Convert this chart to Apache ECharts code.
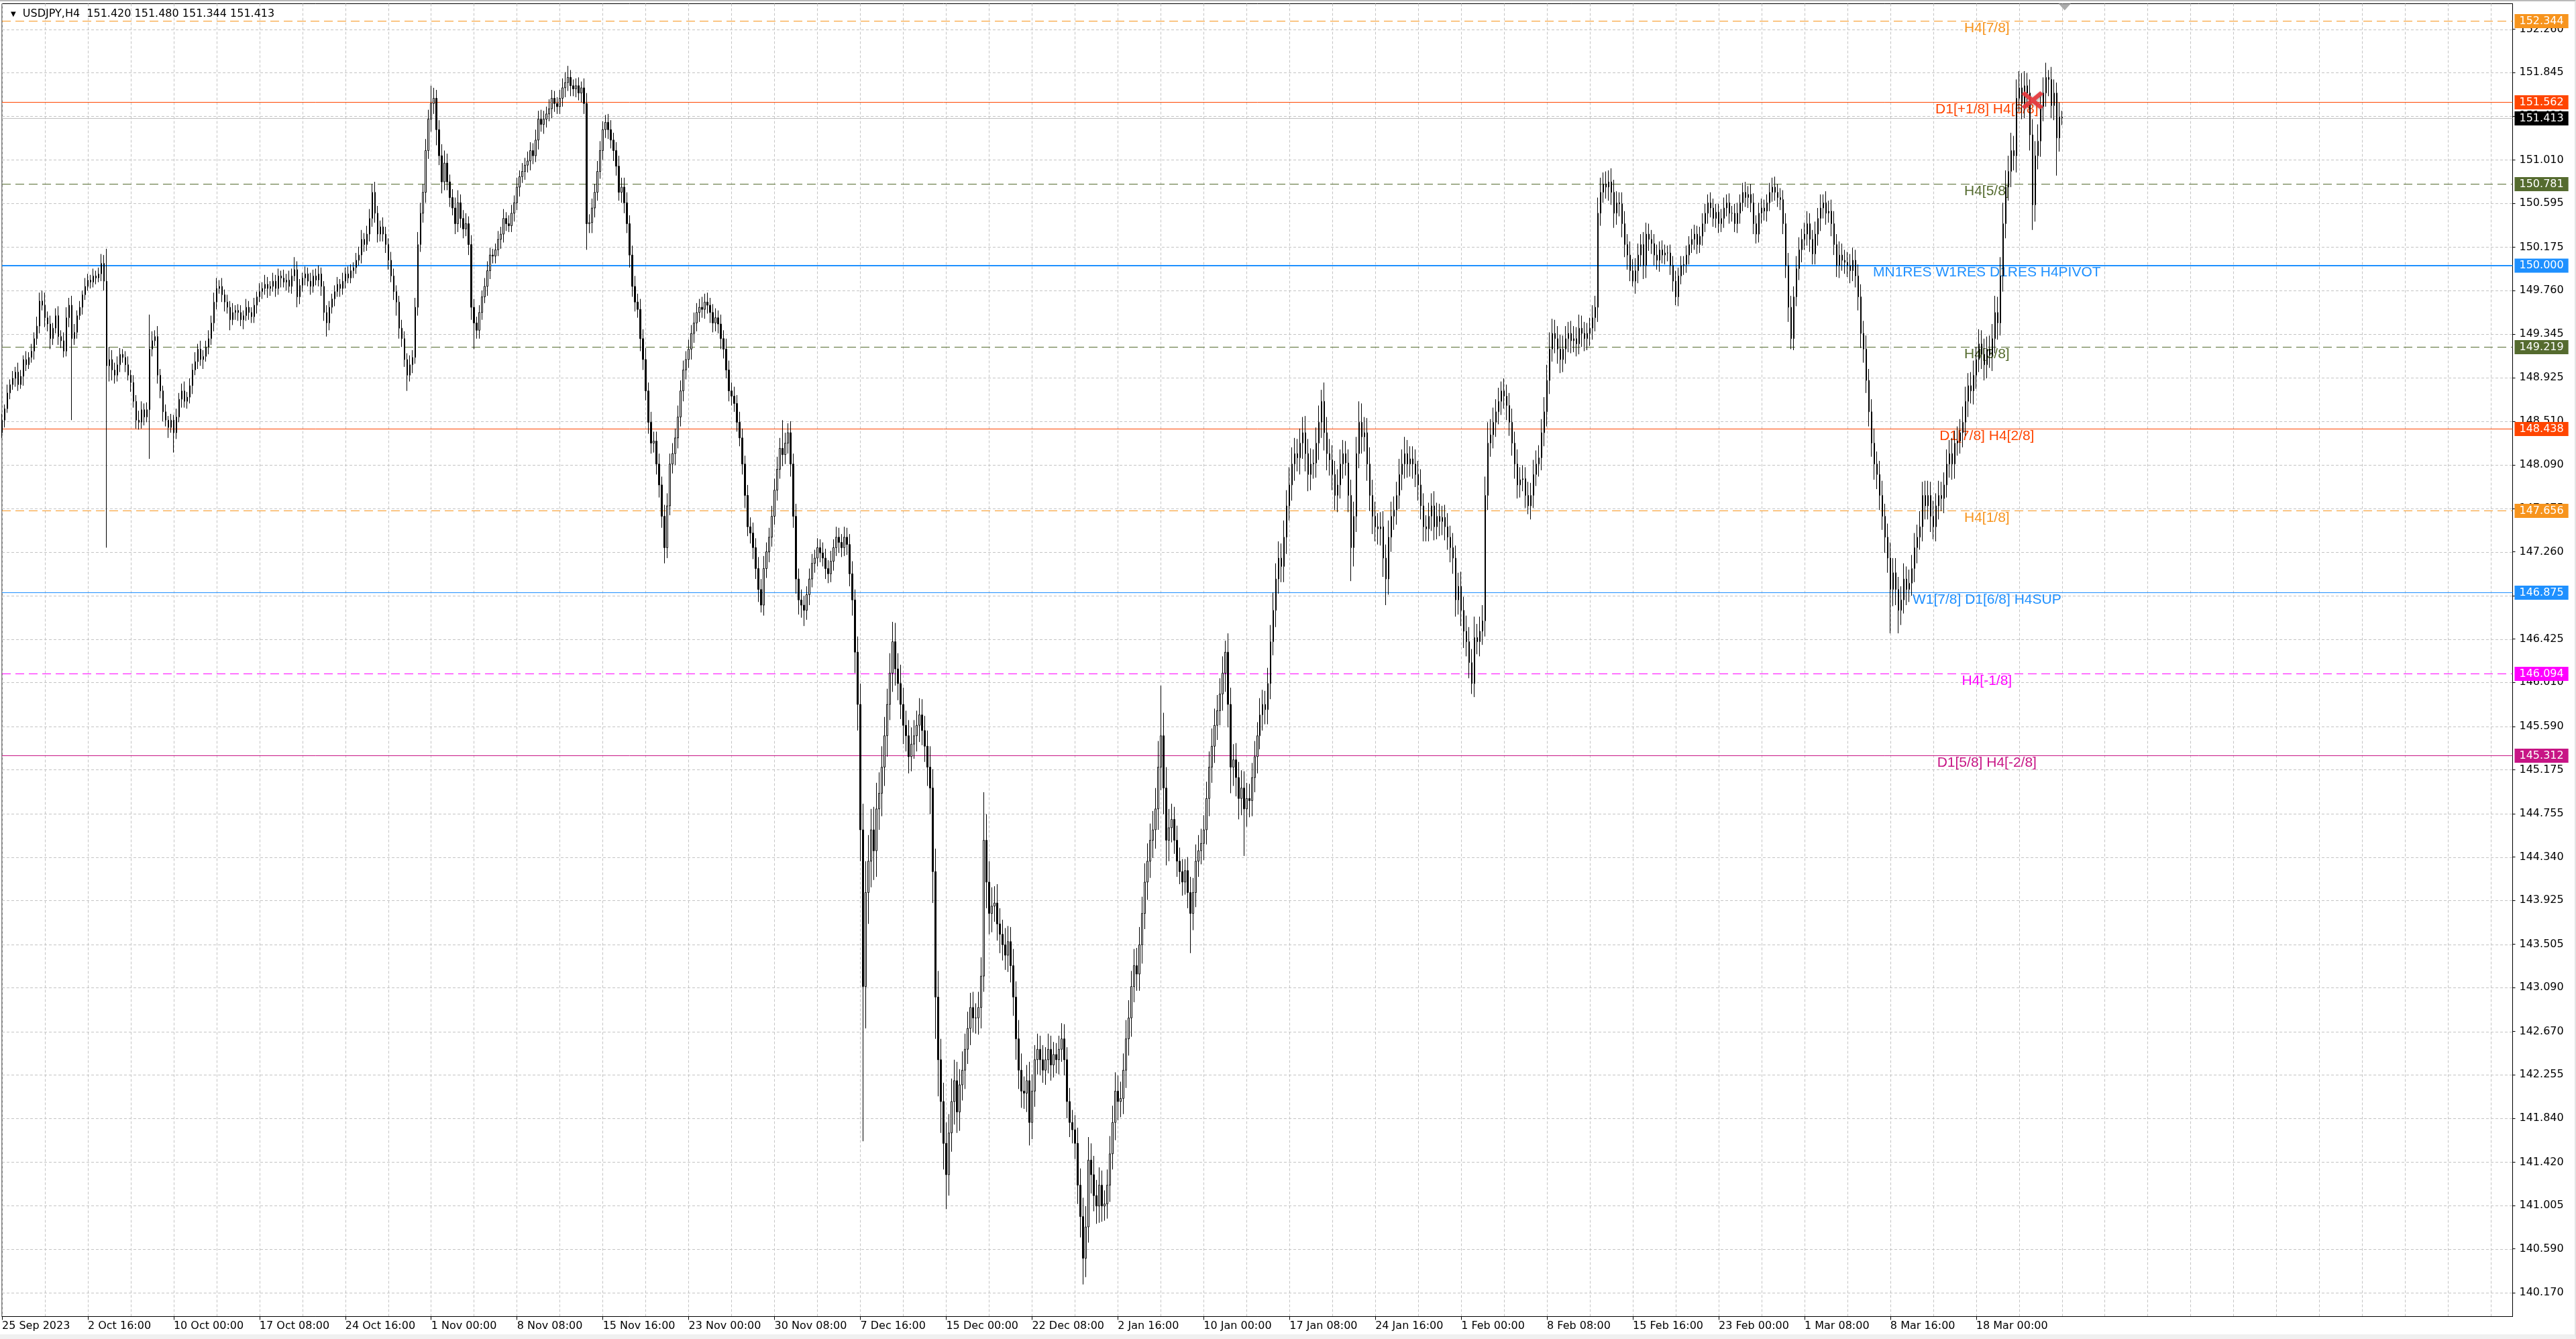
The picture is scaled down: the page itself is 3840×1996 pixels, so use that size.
<!DOCTYPE html>
<html><head><meta charset="utf-8">
<script src="https://cdn.jsdelivr.net/npm/echarts@6/dist/echarts.min.js"></script>
<style>
html,body{margin:0;padding:0;background:#fff;overflow:hidden;}
#c{width:3838px;height:1987px;border-top:2px solid #B9B9B9;border-right:2px solid #E3E3E3;border-bottom:7px solid #F0F0F0;}
</style>
</head><body><div id="c"></div>
<script>
// ---------- data ----------
const symbolName = 'USDJPY,H4';
const headerOHLC = ['151.420', '151.480', '151.344', '151.413'];

const xLabels = ['25 Sep 2023','2 Oct 16:00','10 Oct 00:00','17 Oct 08:00','24 Oct 16:00','1 Nov 00:00',
  '8 Nov 08:00','15 Nov 16:00','23 Nov 00:00','30 Nov 08:00','7 Dec 16:00','15 Dec 00:00','22 Dec 08:00',
  '2 Jan 16:00','10 Jan 00:00','17 Jan 08:00','24 Jan 16:00','1 Feb 00:00','8 Feb 08:00','15 Feb 16:00',
  '23 Feb 00:00','1 Mar 08:00','8 Mar 16:00','18 Mar 00:00'];

const yTicks = [140.170,140.590,141.005,141.420,141.840,142.255,142.670,143.090,143.505,143.925,144.340,
  144.755,145.175,145.590,146.010,146.425,146.840,147.260,147.675,148.090,148.510,148.925,149.345,149.760,
  150.175,150.595,151.010,151.430,151.845,152.260];

const firstOpen = 148.40;
const closes = [
 148.52,148.63,148.78,148.86, 148.92,148.98,148.86,148.94,149.10,149.05, 149.12,149.18,149.30,149.42,149.66,149.62, 149.50,149.44,149.30,149.40,149.52,149.32, 149.28,149.18,149.50,149.62,149.30,149.36,
 149.52,149.60,149.72,149.80,149.86,149.84, 149.90,149.88,149.92,150.02,149.85,149.04, 149.10,149.00,148.95,149.05,149.15,149.12, 149.05,148.95,148.88,148.70,148.52,148.50, 148.62,148.55,148.62,149.20,149.28,149.32,
 148.95,148.80,148.60,148.52,148.45,148.52, 148.40,148.55,148.72,148.80,148.70,148.74, 148.85,149.00,149.08,149.20,149.10,149.13, 149.22,149.30,149.45,149.65,149.78,149.80, 149.72,149.65,149.60,149.48,149.55,149.57,
 149.55,149.48,149.52,149.60,149.55,149.51, 149.62,149.70,149.75,149.78,149.82,149.78, 149.80,149.85,149.78,149.90,149.88,149.84, 149.86,149.80,149.90,149.96,149.70,149.81, 149.88,149.92,149.85,149.80,149.90,149.86,
 149.92,149.80,149.55,149.45,149.60,149.68, 149.75,149.82,149.78,149.85,149.92,149.88, 149.95,149.98,150.05,150.10,150.25,150.20, 150.30,150.45,150.70,150.50,150.30,150.37, 150.30,150.20,150.05,149.90,149.75,149.65,
 149.40,149.30,149.10,148.95,149.05,149.12, 149.60,150.20,150.50,150.70,151.10,151.40, 151.55,151.60,151.30,151.05,150.80,150.98, 150.80,150.65,150.55,150.40,150.60,150.45, 150.35,150.40,150.20,149.60,149.45,149.38,
 149.55,149.70,149.80,149.95,150.10,150.09, 150.15,150.25,150.30,150.45,150.40,150.38, 150.50,150.60,150.75,150.85,150.90,150.96, 151.00,151.10,151.05,151.20,151.40,151.35, 151.40,151.45,151.50,151.60,151.55,151.52,
 151.60,151.70,151.75,151.80,151.72,151.69, 151.72,151.65,151.70,151.55,150.40,150.41, 150.55,150.70,150.90,151.10,151.30,151.37, 151.30,151.20,151.10,150.95,150.70,150.75, 150.60,150.40,150.10,149.80,149.65,149.58,
 149.30,149.10,148.80,148.50,148.30,148.32, 148.10,147.90,147.60,147.30,147.70,148.10, 148.20,148.35,148.55,148.80,149.00,149.10, 149.20,149.35,149.45,149.55,149.60,149.58, 149.65,149.62,149.55,149.45,149.50,149.44,
 149.30,149.20,149.00,148.80,148.75,148.68, 148.50,148.35,148.10,147.80,147.50,147.44, 147.30,147.10,146.90,146.75,147.10,147.26, 147.40,147.60,147.85,148.05,148.25,148.19, 148.30,148.40,148.10,147.60,147.00,146.80,
 146.75,146.70,146.85,147.00,147.15,147.20, 147.30,147.25,147.20,147.10,147.05,147.17, 147.30,147.40,147.35,147.30,147.40,147.33, 147.05,146.80,146.30,145.80,144.60,143.10, 144.00,144.30,144.60,144.40,144.80,144.95,
 145.20,145.50,145.80,146.10,146.40,146.14, 146.00,145.80,145.60,145.50,145.30,145.42, 145.50,145.60,145.70,145.55,145.40,145.20, 145.00,144.20,143.00,142.40,142.00,141.60, 141.30,141.70,142.00,142.20,141.90,142.16,
 142.30,142.50,142.70,142.90,142.80,142.80, 142.90,143.20,144.50,144.10,143.80,143.87, 143.90,143.70,143.60,143.50,143.40,143.53, 143.30,143.00,142.60,142.30,142.10,142.08, 142.20,141.80,142.10,142.40,142.50,142.40,
 142.30,142.40,142.50,142.35,142.45,142.40, 142.50,142.60,142.40,142.00,141.80,141.73, 141.60,141.20,140.90,140.50,140.80,141.44, 141.30,141.10,141.00,141.20,141.00,141.02,
 141.20,141.50,141.80,142.10,142.00,142.03, 142.30,142.60,142.80,143.10,143.30,143.22, 143.50,143.80,144.10,144.30,144.50,144.60, 144.80,145.20,145.50,145.00,144.50,144.62,
 144.70,144.50,144.30,144.20,144.10,144.21, 144.00,143.80,144.00,144.30,144.40,144.47, 144.60,144.90,145.20,145.40,145.60,145.74, 145.90,146.10,146.30,145.80,145.20,145.27, 145.10,144.90,145.00,144.80,144.90,144.88,
 145.10,145.30,145.50,145.70,145.80,145.75, 146.00,146.40,146.70,147.00,147.20,147.12, 147.40,147.70,147.90,148.10,148.20,148.16, 148.30,148.40,148.20,148.00,148.10,148.11, 148.30,148.50,148.70,148.40,148.20,148.14,
 148.00,147.80,147.90,148.10,148.20,148.11, 147.80,147.30,147.60,148.20,148.50,148.36, 148.40,148.10,147.80,147.60,147.50,147.48, 147.50,147.20,147.00,147.40,147.60,147.66, 147.80,148.00,148.10,148.20,148.10,148.15,
 148.10,148.00,147.90,147.70,147.50,147.48, 147.60,147.70,147.50,147.60,147.55,147.59, 147.50,147.40,147.30,147.20,146.80,146.93, 146.70,146.50,146.40,146.20,146.00,146.44, 146.40,146.50,146.60,147.80,148.30,148.38,
 148.50,148.60,148.70,148.80,148.75,148.66, 148.50,148.30,148.10,147.90,147.95,147.96, 147.80,147.70,147.80,148.00,148.10,148.16, 148.40,148.60,148.90,149.20,149.35,149.30, 149.20,149.10,149.20,149.30,149.35,149.28,
 149.30,149.25,149.40,149.35,149.30,149.35, 149.40,149.50,149.60,150.50,150.70,150.78, 150.75,150.80,150.70,150.50,150.60,150.59, 150.40,150.20,150.10,149.95,149.85,149.95, 150.10,150.20,150.00,150.30,150.25,150.21,
 150.10,150.05,150.15,150.10,150.12,150.12, 150.00,149.85,149.70,149.90,150.00,150.01, 150.10,150.20,150.25,150.30,150.20,150.28, 150.40,150.50,150.60,150.55,150.45,150.51, 150.40,150.45,150.55,150.60,150.50,150.50,
 150.40,150.50,150.60,150.70,150.65,150.68, 150.60,150.40,150.30,150.50,150.55,150.52, 150.60,150.70,150.75,150.70,150.65,150.63, 150.40,150.00,149.60,149.30,149.70,149.97, 150.15,150.25,150.30,150.40,150.25,150.11,
 150.30,150.45,150.55,150.60,150.50,150.52, 150.40,150.20,150.00,150.10,150.05,150.03, 150.00,149.95,150.05,149.90,149.70,149.35, 149.20,148.90,148.60,148.30,148.10,148.00, 147.80,147.60,147.40,147.20,146.90,147.06,
 146.90,146.70,146.80,147.00,146.90,146.96, 147.10,147.30,147.40,147.50,147.80,147.70, 147.80,147.60,147.50,147.70,147.80,147.77, 147.90,148.10,148.20,148.10,148.30,148.32, 148.40,148.50,148.70,148.85,148.80,148.95,
 149.10,149.25,149.15,149.05,149.20,149.14, 149.30,149.55,149.45,149.90,150.40,150.75, 150.90,151.10,151.05,151.60,151.70,151.55, 151.72,151.65,151.25,150.58,151.05,151.19, 151.52,151.65,151.80,151.78,151.53,151.65, 151.22,151.42,151.413
];
// wick lengths above / below the body, in hundredths of a yen
const upperWick = [
 6,4,8,5, 7,5,9,6,4,8, 5,7,6,9,8,10, 12,6,8,5,7,9, 6,8,10,7,9,8,
 5,6,4,8,6,5, 7,5,6,9,8,31, 12,9,7,8,6,5, 6,8,5,7,6,9, 8,6,7,33,9,6,
 10,6,5,7,4,6, 5,8,6,7,9,5, 7,6,9,5,8,6, 6,8,7,9,10,6, 8,5,7,6,9,5,
 6,7,5,8,6,5, 7,5,8,6,9,7, 5,8,6,7,5,8, 6,9,7,12,8,6, 5,7,6,8,6,7,
 8,6,5,7,6,5, 6,7,5,8,6,7, 6,5,7,8,9,6, 8,9,8,10,7,6, 9,7,6,8,7,6,
 6,8,7,6,9,7, 9,12,10,8,11,9, 17,10,8,9,11,12, 9,7,8,10,12,8, 8,10,7,9,8,6,
 7,6,8,9,7,6, 6,8,7,9,6,8, 8,7,9,6,8,7, 9,8,7,10,8,9, 8,7,9,8,7,6,
 8,9,10,11,7,6, 7,8,6,9,10,8, 9,8,10,9,8,7, 8,9,7,8,10,9, 9,10,8,9,10,8,
 10,9,11,8,10,9, 9,10,8,11,12,10, 10,9,11,10,9,8, 9,8,10,9,8,10, 8,9,7,8,9,7,
 9,8,10,9,8,9, 8,10,9,8,10,9, 10,9,11,10,12,9, 9,10,11,12,10,27, 10,9,11,10,12,10,
 10,9,8,10,9,8, 9,8,10,9,8,10, 8,10,9,8,10,9, 10,12,10,15,20,25, 30,25,20,22,25,20,
 20,18,15,19,19,18, 15,18,16,14,15,16, 15,14,16,15,14,15, 20,18,22,25,20,18, 20,18,22,20,18,15,
 18,15,16,14,15,14, 15,18,46,25,20,18, 16,18,15,14,16,15, 14,16,15,18,16,14, 15,18,16,14,15,13,
 14,12,15,13,12,11, 13,15,14,12,13,12, 14,15,16,18,20,22, 16,18,15,17,14,13,
 15,17,16,18,15,16, 16,18,17,15,16,17, 17,16,18,17,16,18, 20,25,48,22,20,18,
 15,12,14,13,12,11, 13,15,14,16,15,14, 14,16,15,17,16,15, 15,16,11,18,16,15, 16,15,17,16,15,14,
 14,15,13,16,14,13, 15,16,17,15,16,14, 16,15,17,16,15,14, 14,15,16,14,15,13, 15,16,11,18,15,14,
 14,13,15,14,13,12, 13,15,14,16,20,18, 15,14,16,15,14,13, 14,15,13,16,14,13, 13,15,14,16,13,12,
 12,14,13,15,12,11, 13,12,14,13,12,11, 12,13,11,14,12,13, 14,13,15,14,13,20, 13,14,15,18,20,15,
 14,12,13,9,12,11, 12,13,11,14,12,13, 11,13,12,14,13,12, 13,14,15,16,14,13, 12,14,13,12,11,12,
 12,11,13,12,11,10, 10,12,11,15,14,11, 12,11,13,12,11,10, 11,12,10,13,11,12, 11,10,12,11,10,9,
 9,10,8,9,8,7, 8,9,10,8,9,8, 9,8,10,9,8,9, 10,9,8,10,9,8, 8,9,10,8,9,7,
 9,10,8,9,10,8, 10,9,8,10,9,8, 8,9,9,10,8,9, 9,10,12,11,10,12, 12,10,11,12,10,9,
 12,10,13,8,11,10, 11,12,10,13,11,10, 10,11,12,10,11,12, 12,13,11,12,14,12, 13,14,12,13,15,14,
 14,12,13,15,12,13, 13,14,12,15,13,14, 14,13,15,12,14,13, 12,14,13,15,12,14, 13,15,14,12,13,14,
 12,14,13,15,12,13, 14,16,15,18,20,16, 15,17,14,18,16,14, 14,12,13,15,14,16, 13,15,14,7,12,13, 10,14,6
];
const lowerWick = [
 5,7,4,6, 5,8,6,4,9,6, 4,5,8,6,7,5, 9,7,10,6,5,8, 7,6,5,9,78,6,
 6,4,7,5,4,6, 5,6,4,7,9,174, 15,10,8,6,7,5, 7,5,9,6,8,7, 6,8,5,47,7,5,
 8,7,9,6,10,5, 19,6,5,8,6,7, 6,8,5,7,6,9, 5,7,6,8,7,5, 7,9,6,10,5,7,
 8,6,9,5,7,6, 6,8,5,7,6,9, 7,5,8,6,9,5, 8,6,7,5,10,7, 6,7,5,8,6,5,
 6,9,8,13,7,6, 7,5,8,6,7,5, 5,7,6,5,8,7, 6,7,8,9,8,7, 7,8,9,6,8,13,
 10,8,7,15,6,8, 6,8,7,9,10,8, 12,10,15,9,11,8, 8,9,7,10,8,9, 9,7,10,12,25,8,
 8,7,6,9,8,7, 7,6,9,8,7,6, 6,8,7,9,6,8, 7,9,8,6,9,7, 9,8,7,9,8,7,
 7,8,9,8,10,7, 8,7,9,10,25,9, 10,9,8,7,9,8, 9,8,10,9,8,10, 10,9,12,10,9,8,
 12,10,9,11,10,9, 10,12,11,15,10,9, 9,11,10,9,10,9, 8,10,9,8,9,8, 9,8,10,9,8,9,
 10,9,8,10,9,8, 9,8,10,12,9,10, 11,10,12,7,10,9, 10,9,8,10,9,11, 9,10,12,11,14,14,
 12,15,9,10,8,9, 8,9,8,10,9,8, 9,8,10,9,8,10, 12,15,20,25,30,148, 40,30,25,28,25,20,
 22,18,20,15,18,16, 16,14,18,15,16,14, 14,15,16,14,15,18, 25,30,40,35,30,25, 33,20,18,22,20,18,
 15,18,14,16,14,15, 16,20,15,25,20,18, 15,16,18,15,14,16, 16,18,20,18,16,15, 18,22,16,15,14,15,
 12,14,13,15,12,13, 14,12,15,16,14,13, 15,18,20,25,18,15, 18,15,17,16,15,14,
 14,16,15,17,18,15, 15,17,16,18,15,16, 16,18,15,17,16,17, 18,20,22,25,24,20,
 14,13,15,12,13,12, 15,38,16,14,15,13, 16,14,17,15,16,14, 14,16,18,22,25,18, 18,20,16,45,17,16,
 15,14,16,13,15,14, 14,15,13,16,14,15, 15,16,14,15,16,13, 16,15,17,16,15,14, 14,16,15,17,16,15,
 15,14,16,13,14,12, 16,32,18,15,14,16, 14,16,15,17,14,15, 16,18,25,15,14,13, 14,13,15,14,13,12,
 14,12,15,13,14,12, 12,14,13,12,14,13, 13,12,14,15,16,14, 15,16,14,15,10,13, 12,14,13,15,14,13,
 13,14,12,13,12,14, 13,12,14,13,12,11, 12,8,13,12,11,12, 12,13,14,13,12,14, 14,13,12,14,13,12,
 11,12,10,13,12,11, 12,11,13,14,12,10, 11,13,12,14,11,12, 13,12,14,10,5,12, 12,11,13,12,11,10,
 10,9,11,8,9,8, 9,10,8,9,8,9, 8,9,8,10,9,8, 9,8,10,9,8,9, 9,8,9,8,10,8,
 8,9,10,8,9,10, 9,10,9,8,10,9, 10,8,9,8,9,10, 10,12,14,10,11,9, 11,12,10,11,12,10,
 10,11,12,10,11,9, 12,10,11,12,10,11, 11,12,10,11,13,14, 13,12,14,13,15,14, 14,13,15,14,42,16,
 15,22,14,13,15,12, 12,13,15,12,14,13, 13,15,12,14,13,12, 14,12,13,15,14,12, 12,14,13,15,12,13,
 13,12,14,15,13,12, 15,14,16,12,15,14, 13,15,14,16,13,15, 14,12,15,24,16,13, 15,14,13,16,12,14, 36,13,7
];

// horizontal levels drawn on the chart
const levelValues = [152.344, 151.562, 150.781, 150.000, 149.219, 148.438, 147.656, 146.875, 146.094, 145.312];
const levelLabels = ['H4[7/8]', 'D1[+1/8] H4[6/8]', 'H4[5/8]', 'MN1RES W1RES D1RES H4PIVOT', 'H4[3/8]',
  'D1[7/8] H4[2/8]', 'H4[1/8]', 'W1[7/8] D1[6/8] H4SUP', 'H4[-1/8]', 'D1[5/8] H4[-2/8]'];
const bidPrice = 151.413;
const crossMark = [757, 151.58];   // red cross object (bar index, price)

// ---------- styles ----------
const levelStyles = [
  {c:'#F7941D', d:[13,7], w:1}, {c:'#FF4500', d:null, w:1}, {c:'#556B2F', d:[13,7], w:1},
  {c:'#1E90FF', d:null, w:2}, {c:'#556B2F', d:[13,7], w:1}, {c:'#FF4500', d:null, w:1},
  {c:'#F7941D', d:[13,7], w:1}, {c:'#1E90FF', d:null, w:1}, {c:'#FF00FF', d:[13,7], w:1},
  {c:'#C71585', d:null, w:1}
];
const totalSlots = 937;      // bars + empty chart-shift space
const labelBar = 740;        // bar index where level captions are centred
const shiftBar = 769;        // chart-shift marker
const yMin = 139.943, yMax = 152.505;
const AXF = 'DejaVu Sans';
const TAGFONT = '16px "DejaVu Sans"';
const CAPFONT = '21px "Liberation Sans"';

// ---------- build ----------
const ohlc = [];
let prev = firstOpen;
closes.forEach((c, i) => {
  const o = prev;
  const hi = Math.max(o, c) + (upperWick[i] || 0) / 100;
  const lo = Math.min(o, c) - (lowerWick[i] || 0) / 100;
  ohlc.push([o, c, +lo.toFixed(3), +hi.toFixed(3)]);
  prev = c;
});

const categories = [];
for (let i = 0; i < totalSlots; i++) {
  categories.push(i % 32 === 0 && i / 32 < xLabels.length ? xLabels[i / 32] : '');
}

function crispY(api, v, w) {
  const y = Math.round(api.coord([0, v])[1]);
  return w % 2 === 1 ? y + 0.5 : y;
}
function tagText(cs, y, txt, bg) {
  return { type: 'text', silent: true, x: cs.x + cs.width + 3, y: y,
    style: { text: txt, fill: '#fff', backgroundColor: bg, padding: [3, 7, 2, 7], font: TAGFONT,
      align: 'left', verticalAlign: 'middle', textAlign: 'left', textVerticalAlign: 'middle' } };
}

const chart = echarts.init(document.getElementById('c'), null, { renderer: 'canvas' });
chart.setOption({
  animation: false,
  backgroundColor: '#fff',
  title: {
    text: '{t|▼}  ' + symbolName + '  ' + headerOHLC.join(' '),
    left: 11, top: 6,
    textStyle: { fontFamily: AXF, fontSize: 16, fontWeight: 'normal', color: '#000', rich: { t: { fontSize: 10, color: '#000' } } }
  },
  grid: { left: 1.5, right: 92.5, top: 3.5, bottom: 26.5, show: true, borderColor: '#000', borderWidth: 1, backgroundColor: 'transparent' },
  xAxis: {
    type: 'category', data: categories, boundaryGap: false,
    axisLine: { show: true, lineStyle: { color: '#000', width: 1 } },
    axisTick: { show: true, interval: (i) => categories[i] !== '', length: 5, lineStyle: { color: '#000' } },
    axisLabel: { interval: 0, align: 'left', margin: 6, color: '#000', fontFamily: AXF, fontSize: 16 },
    splitLine: { show: true, interval: (i) => i % 16 === 0, lineStyle: { color: '#C4C4C4', type: [4, 3], width: 1 } }
  },
  yAxis: {
    type: 'value', position: 'right', min: yMin, max: yMax, scale: true,
    axisLine: { show: true, lineStyle: { color: '#000', width: 1 } },
    axisTick: { show: true, customValues: yTicks, length: 4, lineStyle: { color: '#000' } },
    axisLabel: { customValues: yTicks, formatter: (v) => v.toFixed(3), color: '#000', fontFamily: AXF, fontSize: 16, margin: 10 },
    splitLine: { show: false }
  },
  series: [
    { // price grid lines
      type: 'custom', z: 1, silent: true, clip: false,
      data: yTicks.map(v => [0, v]), encode: { x: 0, y: 1 },
      renderItem: (params, api) => {
        const cs = params.coordSys;
        const y = crispY(api, api.value(1), 1);
        return { type: 'line', silent: true, shape: { x1: cs.x, y1: y, x2: cs.x + cs.width, y2: y },
          style: { stroke: '#C4C4C4', lineWidth: 1, lineDash: [4, 3] } };
      }
    },
    { // level lines, captions and price tags
      type: 'custom', z: 2, silent: true, clip: false,
      data: levelValues.map((v, i) => [i, v]), encode: { x: 0, y: 1 },
      renderItem: (params, api) => {
        const cs = params.coordSys;
        const i = params.dataIndex;
        const v = levelValues[i];
        const s = levelStyles[i];
        const y = crispY(api, v, s.w);
        const lx = api.coord([labelBar, v])[0];
        return { type: 'group', silent: true, children: [
          { type: 'line', shape: { x1: cs.x, y1: y, x2: cs.x + cs.width, y2: y },
            style: { stroke: s.c, lineWidth: s.w, lineDash: s.d || null } },
          { type: 'text', x: lx, y: y,
            style: { text: levelLabels[i], fill: s.c, font: CAPFONT, align: 'center', verticalAlign: 'top',
              textAlign: 'center', textVerticalAlign: 'top' } },
          tagText(cs, y, v.toFixed(3), s.c)
        ] };
      }
    },
    { // bid line
      type: 'custom', z: 2, silent: true, clip: false,
      data: [[0, bidPrice]], encode: { x: 0, y: 1 },
      renderItem: (params, api) => {
        const cs = params.coordSys;
        const y = crispY(api, bidPrice, 1);
        return { type: 'group', silent: true, children: [
          { type: 'line', shape: { x1: cs.x, y1: y, x2: cs.x + cs.width, y2: y }, style: { stroke: '#C0C0C0', lineWidth: 1 } },
          tagText(cs, y, bidPrice.toFixed(3), '#000')
        ] };
      }
    },
    {
      type: 'candlestick', data: ohlc, barWidth: 2, large: false, z: 3, silent: true,
      itemStyle: { color: '#fff', color0: '#000', borderColor: '#000', borderColor0: '#000', borderColorDoji: '#000', borderWidth: 1 },
      markPoint: {
        silent: true, animation: false,
        data: [
          { coord: crossMark, symbol: 'path://M3,0 L10,7 L17,0 L20,3 L13,10 L20,17 L17,20 L10,13 L3,20 L0,17 L7,10 L0,3 Z',
            symbolSize: [33, 27], itemStyle: { color: '#E8393E', opacity: 0.92, shadowBlur: 4, shadowColor: 'rgba(0,0,0,0.35)', shadowOffsetX: 1, shadowOffsetY: 1 }, label: { show: false } },
          { coord: [shiftBar, yMax], symbol: 'triangle', symbolRotate: 180, symbolSize: [18, 10], symbolOffset: [0, 5],
            itemStyle: { color: '#ABABAB' }, label: { show: false } }
        ]
      }
    }
  ]
});
</script>
</body></html>
